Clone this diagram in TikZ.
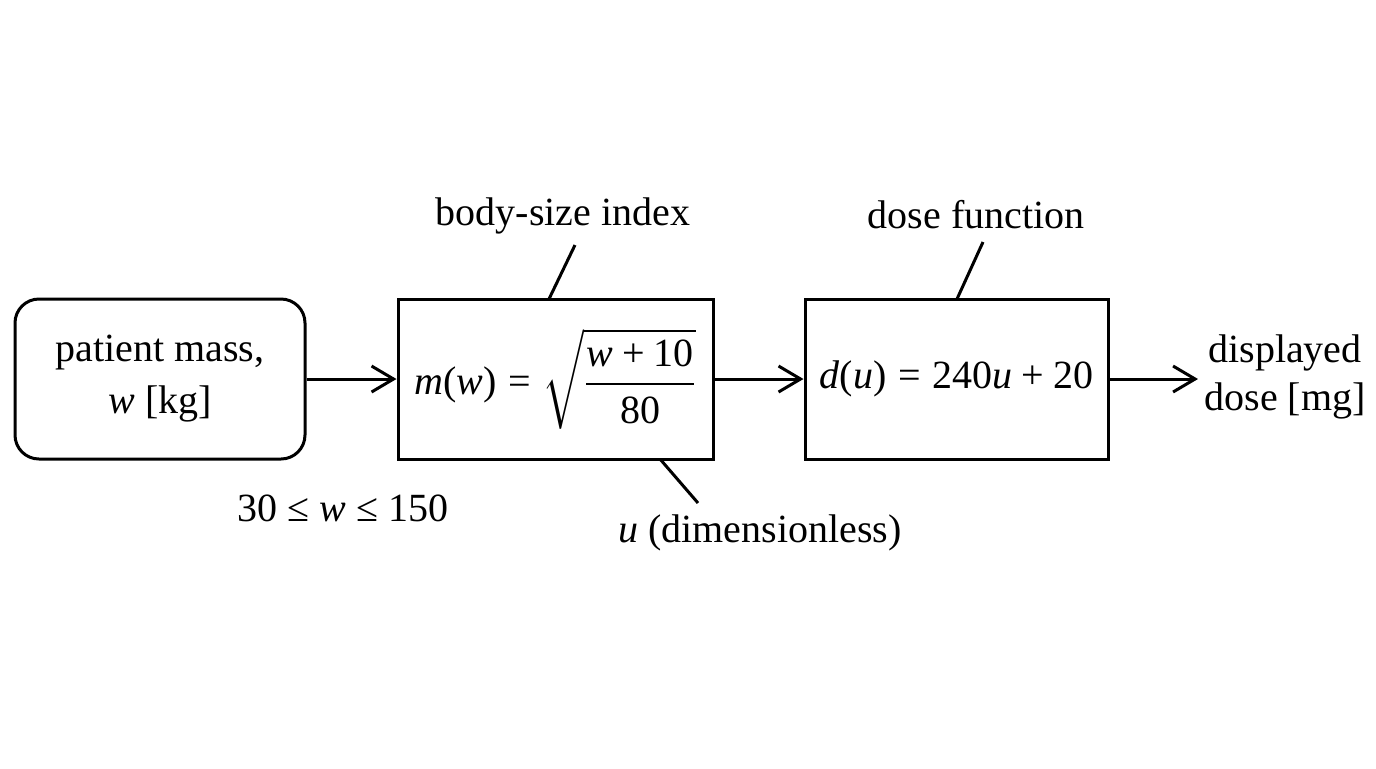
\documentclass[tikz,border=0pt]{standalone}
\usepackage{amsmath}
\usepackage{fontspec}
\setmainfont{Liberation Serif}
\usetikzlibrary{arrows.meta}
\newcommand{\vi}[1]{\textit{#1}}
\newcommand{\tu}[1]{\textup{#1}}
\newcommand{\teq}{\mathrel{\textup{=}}}
\newcommand{\tplus}{\mathbin{\textup{+}}}
\begin{document}
\begin{tikzpicture}[x=0.5pt,y=-0.5pt,
  every node/.style={font=\fontsize{20}{23}\selectfont, inner sep=0pt},
  blk/.style={draw, line width=1.5pt, minimum height=80pt, align=center},
  flow/.style={line width=1.5pt, -{Straight Barb[length=11pt,width=13pt,line width=1.5pt]}},
  lead/.style={line width=1.5pt},
  lbl/.style={align=center}]
\useasboundingbox (0,0) rectangle (1376,768);
\fill[white] (0,0) rectangle (1376,768);
\node[blk, rounded corners=12pt, minimum width=145pt] (pm) at (160,379) {patient mass,\\[3pt]\vi{w} [kg]};
\node[blk, minimum width=157.5pt] (bs) at (555.5,379) {$\vi{m}\tu{(}\vi{w}\tu{)} \teq \sqrt{\dfrac{\vi{w}\tplus\tu{10}}{\tu{80}}}$};
\node[blk, minimum width=151.5pt] (df) at (956.5,379) {$\vi{d}\tu{(}\vi{u}\tu{)} \teq \tu{240}\vi{u}\tplus\tu{20}$};
\node[lbl] (out) at (1285,377) {displayed\\[1pt]dose [mg]};
\coordinate (oute) at (1198,379);
\node[lbl] (bsl) at (563,216) {body-size index};
\node[lbl] (dfl) at (976,215) {dose function};
\node[lbl] (rng) at (343,508) {30 ≤ \vi{w} ≤ 150};
\node[lbl] (ul) at (760,533) {\vi{u} (dimensionless)};
\coordinate (bsa) at (549,299);
\coordinate (bsb) at (575,245);
\coordinate (dfa) at (957,299);
\coordinate (dfb) at (983,242);
\coordinate (ua) at (660,459);
\coordinate (ub) at (698,503);
\draw[flow] (pm.east) -- (bs.west);
\draw[flow] (bs.east) -- (df.west);
\draw[flow] (df.east) -- (oute);
\draw[lead] (bsa) -- (bsb);
\draw[lead] (dfa) -- (dfb);
\draw[lead] (ua) -- (ub);
\end{tikzpicture}
\end{document}
